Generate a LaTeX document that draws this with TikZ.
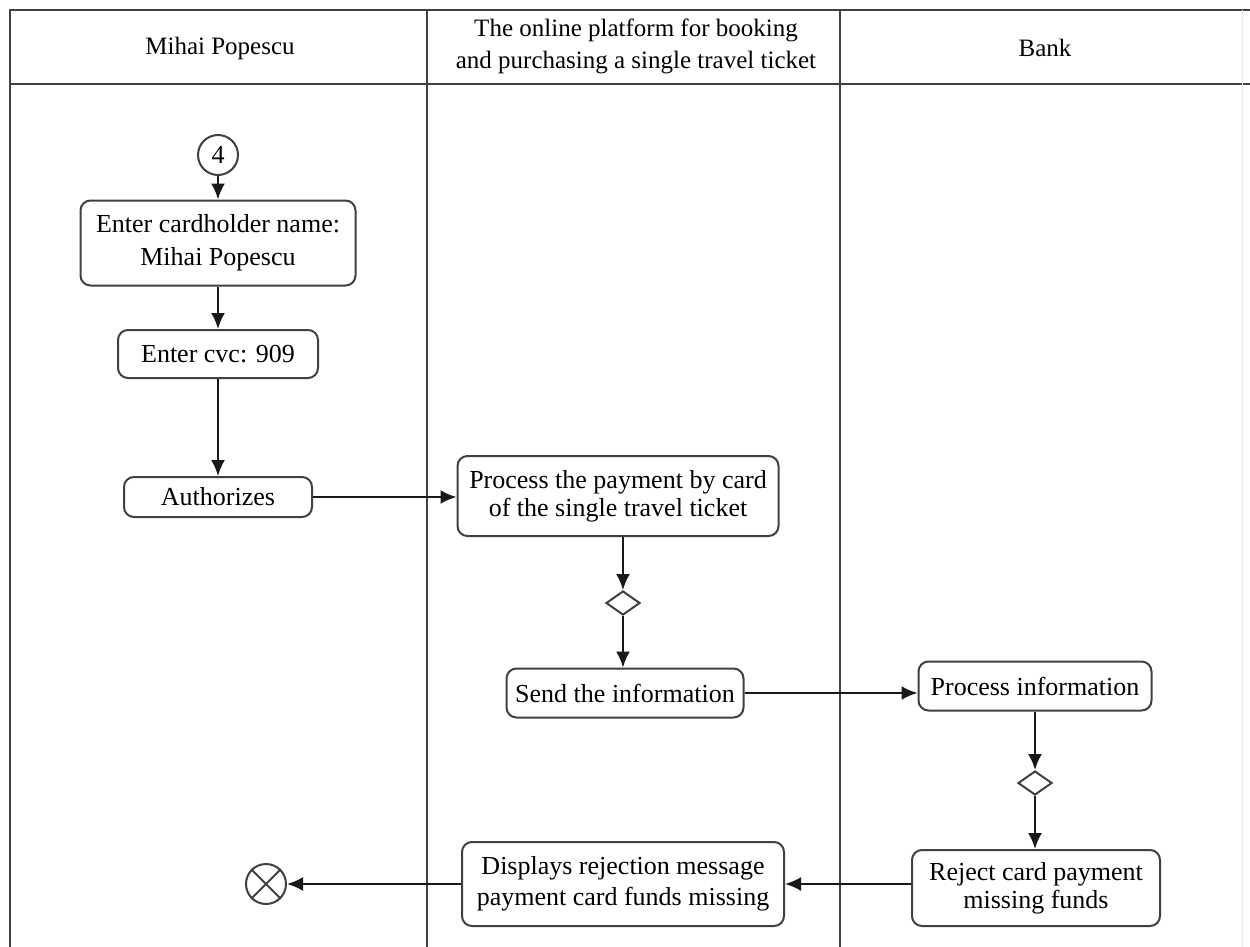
\documentclass[tikz,border=0pt]{standalone}
\usepackage{fontspec}
\setmainfont{Liberation Serif}
\usetikzlibrary{arrows.meta,shapes.geometric}
\begin{document}
\begin{tikzpicture}[x=1pt,y=-1pt,
  lane/.style={draw=black!75,line width=2.4pt},
  act/.style={draw=black!75,line width=2pt,rounded corners=10pt,inner sep=0pt,align=center,font=\fontsize{26}{30}\selectfont},
  flow/.style={draw=black!90,line width=2.2pt,-{Latex[length=16pt,width=14pt]}},
  dec/.style={draw=black!75,line width=2pt,diamond,minimum width=34pt,minimum height=24pt,inner sep=0pt,aspect=1.4},
  hdr/.style={align=center,font=\fontsize{25}{32}\selectfont}]
\useasboundingbox (0,0) rectangle (1250,947);
\fill[white] (0,0) rectangle (1250,947);
% swimlane frame
\draw[lane] (10,947) -- (10,10) -- (1250,10);
\draw[lane] (10,84) -- (1250,84);
\draw[lane] (427,10) -- (427,947);
\draw[lane] (840,10) -- (840,947);
\draw[black!8,line width=1pt] (1242,10) -- (1242,947);
% headers
\node[hdr] (h1) at (220,48) {Mihai Popescu};
\node[hdr] (h2) at (636,46) {The online platform for booking\\and purchasing a single travel ticket};
\node[hdr] (h3) at (1045,48) {Bank};
% nodes
\node[draw=black!75,line width=2pt,circle,minimum size=40pt,inner sep=0pt,font=\fontsize{26}{30}\selectfont] (c4) at (218,155) {4};
\node[act,minimum width=275pt,minimum height=85pt,font=\fontsize{26}{33}\selectfont] (n1) at (218,243) {Enter cardholder name:\\Mihai Popescu};
\node[act,minimum width=200pt,minimum height=48pt] (n2) at (218,354) { Enter cvc: 909};
\node[act,minimum width=188pt,minimum height=40pt] (n3) at (218,497) {Authorizes};
\node[act,minimum width=321pt,minimum height=80pt,font=\fontsize{26}{28}\selectfont] (n4) at (618,496) {Process the payment by card\\of the single travel ticket};
\node[dec] (d1) at (623,603) {};
\node[act,minimum width=237pt,minimum height=49pt] (n5) at (625,693) {Send the information};
\node[act,minimum width=233pt,minimum height=49pt] (n6) at (1035,686) { Process information};
\node[dec] (d2) at (1035,783) {};
\node[act,minimum width=248pt,minimum height=76pt,font=\fontsize{26}{28}\selectfont] (n7) at (1036,888) {Reject card payment\\missing funds};
\node[act,minimum width=322pt,minimum height=84pt,font=\fontsize{26}{31}\selectfont] (n8) at (623,884) {Displays rejection message\\payment card funds missing};
\node[draw=black!75,line width=2pt,circle,minimum size=40pt,inner sep=0pt] (end) at (266,884) {};
\draw[black!75,line width=2pt] (end.north west) -- (end.south east) (end.north east) -- (end.south west);
% connectors
\draw[flow] (c4) -- (n1);
\draw[flow] (n1) -- (n2);
\draw[flow] (n2) -- (n3);
\draw[flow] (n3) -- (n3 -| n4.west);
\draw[flow] (d1 |- n4.south) -- (d1);
\draw[flow] (d1) -- (d1 |- n5.north);
\draw[flow] (n5) -- (n5 -| n6.west);
\draw[flow] (n6) -- (d2);
\draw[flow] (d2) -- (d2 |- n7.north);
\draw[flow] (n7.west |- n8) -- (n8.east);
\draw[flow] (n8) -- (end);
\end{tikzpicture}
\end{document}
